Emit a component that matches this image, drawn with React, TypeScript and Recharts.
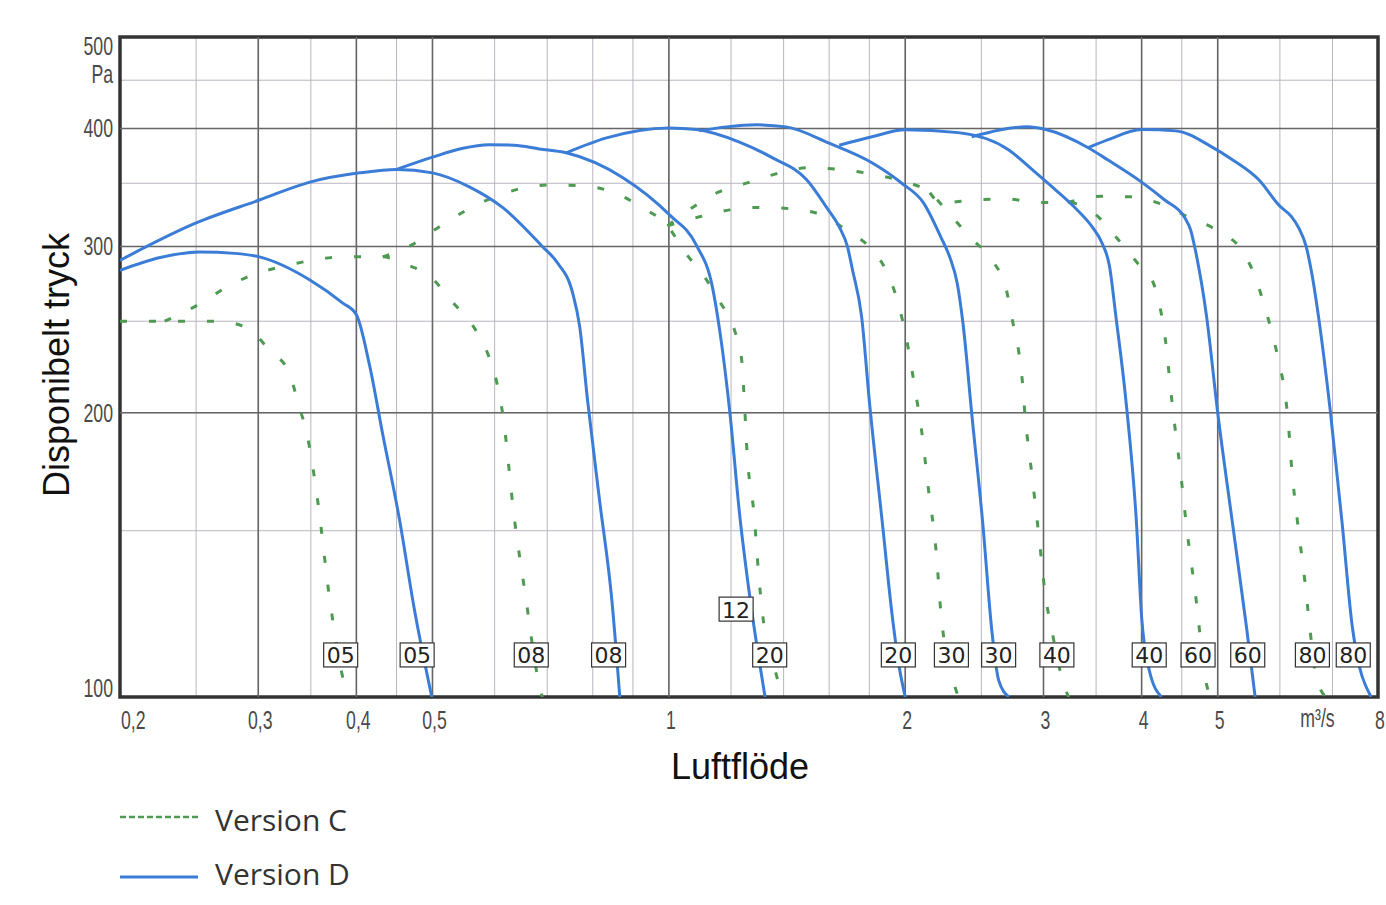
import React from "react";
import {
  ComposedChart,
  Line,
  Scatter,
  XAxis,
  YAxis,
  CartesianGrid,
  ReferenceLine,
  ReferenceArea,
} from "recharts";

const BLUE = "#3b7dd6";
const GREEN = "#4f9a52";

// x grid values (m3/s) and y grid values (Pa), both log axes
const X_GRID = [0.2, 0.25, 0.3, 0.35, 0.4, 0.45, 0.5, 0.6, 0.7, 0.8, 0.9, 1, 1.2, 1.4, 1.6, 1.8, 2, 2.5, 3, 3.5, 4, 4.5, 5, 6, 7, 8];
const Y_GRID = [100, 150, 200, 250, 300, 350, 400, 450, 500];
const X_MAJOR = [0.3, 0.4, 0.5, 1, 2, 3, 4, 5];
const Y_MAJOR = [200, 300, 400];

const X_LABELS: Record<string, string> = {
  "0.2": "0,2", "0.3": "0,3", "0.4": "0,4", "0.5": "0,5",
  "1": "1", "2": "2", "3": "3", "4": "4", "5": "5", "7": "m³/s", "8": "8",
};
const Y_LABELS: Record<string, string> = { "100": "100", "200": "200", "300": "300", "400": "400", "500": "500" };

// Version D (solid blue)
const D05 = [[0.2, 283], [0.225, 292], [0.253, 296], [0.28, 295], [0.301, 292.5], [0.349, 276.5], [0.384, 261.5], [0.4, 254], [0.416, 224], [0.432, 190], [0.454, 154], [0.474, 124], [0.499, 100]];
const D08 = [[0.2, 290], [0.25, 317.7], [0.301, 336], [0.349, 351], [0.404, 359], [0.45, 362], [0.5, 359], [0.557, 347], [0.614, 330], [0.69, 300], [0.722, 288], [0.754, 268], [0.77, 246.6], [0.788, 206], [0.816, 161.7], [0.846, 126.7], [0.866, 100]];
const D12 = [[0.45, 362], [0.5, 373], [0.545, 381], [0.59, 384.5], [0.635, 384], [0.684, 380.6], [0.74, 377], [0.873, 355], [1.002, 324], [1.084, 301], [1.136, 272], [1.162, 243], [1.196, 200], [1.23, 156.7], [1.268, 127.6], [1.326, 100]];
const D20 = [[0.74, 377], [0.833, 391], [1.0, 400.6], [1.084, 399], [1.23, 387], [1.35, 373], [1.498, 353], [1.588, 330], [1.648, 314.7], [1.688, 300], [1.714, 283], [1.76, 252.7], [1.8, 206], [1.87, 153], [1.926, 121.5], [1.965, 107.6], [2.0, 100]];
const D30 = [[1.094, 397.7], [1.184, 401.6], [1.294, 403.6], [1.41, 401.6], [1.6, 386], [1.814, 368], [1.98, 350], [2.11, 333.7], [2.22, 307], [2.28, 292], [2.33, 274], [2.37, 248], [2.43, 200], [2.51, 153], [2.58, 116.9], [2.63, 104.2], [2.71, 100]];
const D40 = [[1.648, 384], [1.814, 392], [2.0, 398.7], [2.336, 396], [2.71, 379.6], [2.9, 362], [3.1, 345], [3.3, 328.9], [3.46, 314.7], [3.56, 302.7], [3.64, 286], [3.71, 252.7], [3.82, 206], [3.94, 153], [4.0, 121.5], [4.09, 106.8], [4.24, 100]];
const D60 = [[2.43, 392], [2.86, 401.6], [3.02, 399], [3.42, 381.7], [3.62, 370.7], [4.0, 351], [4.28, 336], [4.54, 321.8], [4.62, 312], [4.68, 298], [4.84, 252.7], [5.0, 200], [5.22, 153], [5.44, 118.6], [5.58, 100]];
const D80 = [[3.42, 381.7], [3.62, 389], [4.0, 399], [4.42, 397.7], [4.9, 383], [5.22, 370.7], [5.64, 353], [6.0, 331], [6.2, 323], [6.34, 314], [6.48, 300], [6.6, 278.6], [6.72, 252.7], [6.96, 200], [7.2, 153], [7.42, 118.6], [7.84, 100]];

// Version C (dashed green)
const C05 = [[0.2, 250], [0.228, 250], [0.267, 250], [0.29, 246], [0.31, 233], [0.329, 220], [0.337, 204.8], [0.346, 190], [0.357, 161.7], [0.37, 126.7], [0.388, 102.2], [0.395, 100]];
const C08 = [[0.228, 250], [0.251, 260], [0.272, 271], [0.295, 280], [0.321, 285.5], [0.351, 290], [0.384, 292.5], [0.432, 292.5], [0.461, 287.5], [0.499, 277.8], [0.53, 262], [0.562, 247.8], [0.588, 231], [0.604, 215], [0.614, 200], [0.636, 154], [0.658, 126.7], [0.678, 106.8], [0.69, 100]];
const C20 = [[0.432, 292.5], [0.47, 301], [0.508, 314], [0.548, 326.5], [0.597, 337.9], [0.652, 346], [0.71, 348.6], [0.78, 347.7], [0.852, 342], [0.924, 330], [0.996, 315.5], [1.048, 296], [1.11, 278.6], [1.162, 262], [1.212, 244.8], [1.238, 227.6], [1.246, 210.4], [1.258, 181], [1.284, 155.9], [1.302, 134], [1.328, 115.8], [1.362, 107.6], [1.394, 100]];
const C30 = [[0.996, 315.5], [1.094, 322.5], [1.196, 328], [1.302, 330], [1.432, 328.8], [1.564, 324], [1.688, 311.7], [1.814, 297.5], [1.908, 278.6], [1.965, 258.8], [2.005, 240.7], [2.036, 224], [2.066, 207.9], [2.096, 192.8], [2.14, 166.4], [2.19, 142.4], [2.22, 123], [2.29, 106], [2.336, 100]];
const C40 = [[0.996, 315.5], [1.072, 330], [1.158, 342.7], [1.268, 351], [1.384, 359], [1.508, 363.5], [1.648, 362], [1.81, 358], [1.978, 352], [2.15, 342], [2.29, 323], [2.43, 305.6], [2.59, 289], [2.69, 270], [2.74, 250], [2.79, 232], [2.82, 215.6], [2.84, 200], [2.9, 171.8], [2.96, 148], [3.02, 127.3], [3.07, 118.3], [3.19, 102.5], [3.23, 100]];
const C60 = [[2.15, 342], [2.22, 333.7], [2.45, 336], [2.69, 337], [2.93, 334], [3.22, 334], [3.5, 324], [3.71, 307], [3.94, 289], [4.15, 273], [4.24, 254], [4.3, 234.8], [4.34, 218], [4.38, 202.9], [4.48, 174], [4.57, 150], [4.68, 129.2], [4.84, 103], [4.9, 100]];
const C80 = [[3.22, 334], [3.55, 339], [3.88, 338.6], [4.22, 333], [4.58, 322.5], [5.0, 311.7], [5.36, 297.5], [5.58, 278.6], [5.74, 258.8], [5.88, 240.7], [6.0, 224], [6.1, 207.9], [6.16, 191.8], [6.2, 178], [6.32, 153], [6.46, 132], [6.52, 122.7], [6.67, 105.5], [6.86, 100]];

// size tags at the foot of the curves
const TAG_TEXT = ["05", "05", "08", "08", "12", "20", "20", "30", "30", "40", "40", "60", "60", "80", "80"];
const TAG_X = [0.382, 0.478, 0.668, 0.838, 1.218, 1.344, 1.96, 2.29, 2.63, 3.12, 4.09, 4.72, 5.46, 6.6, 7.44];
const TAG_Y = [110.8, 110.8, 110.8, 110.8, 123.9, 110.8, 110.8, 110.8, 110.8, 110.8, 110.8, 110.8, 110.8, 110.8, 110.8];

const BLUE_SERIES = [D05, D08, D12, D20, D30, D40, D60, D80];
const GREEN_SERIES = [C05, C08, C20, C30, C40, C60, C80];

const pts = (arr: number[][]) => arr.map(([x, y]) => ({ x, y }));
const tags = TAG_TEXT.map((t, i) => ({ x: TAG_X[i], y: TAG_Y[i], t }));

const tickFont = "'Liberation Sans', Arial, sans-serif";

const NarrowText = ({ x, y, text, anchor }: any) => (
  <text
    transform={`translate(${x},${y}) scale(0.68,1)`}
    textAnchor={anchor}
    dominantBaseline="central"
    fontFamily={tickFont}
    fontSize={26}
    fill="#4a4a4a"
  >
    {text}
  </text>
);

const XTick = (props: any) => {
  const { x, y, payload } = props;
  const label = X_LABELS[String(payload.value)];
  if (!label) return null;
  if (payload.value === 0.2) return <NarrowText x={x + 1} y={y + 15} text={label} anchor="start" />;
  if (payload.value === 7) return <NarrowText x={x - 15} y={y + 13} text={label} anchor="middle" />;
  return <NarrowText x={x + 2} y={y + 15} text={label} anchor="middle" />;
};

const YTick = (props: any) => {
  const { x, y, payload } = props;
  const label = Y_LABELS[String(payload.value)];
  if (!label) return null;
  if (payload.value === 500)
    return (
      <g>
        <NarrowText x={x + 1} y={y + 9} text="500" anchor="end" />
        <NarrowText x={x + 1} y={y + 37} text="Pa" anchor="end" />
      </g>
    );
  const dy = payload.value === 100 ? -9 : 0;
  return <NarrowText x={x + 1} y={y + dy} text={label} anchor="end" />;
};

const TagShape = (props: any) => {
  const { cx, cy, payload } = props;
  return (
    <g>
      <rect x={cx - 17} y={cy - 12} width={34} height={24} fill="#fff" stroke="#333" strokeWidth={1.2} />
      <text x={cx} y={cy + 1} textAnchor="middle" dominantBaseline="central" fontFamily="'DejaVu Sans', sans-serif" fontSize={22} fill="#222">
        {payload.t}
      </text>
    </g>
  );
};

export default function App() {
  return (
    <div style={{ position: "absolute", left: 0, top: 0, width: 1386, height: 905, background: "#fff" }}>
      <ComposedChart width={1386} height={905} margin={{ top: 37, right: 8, bottom: 168, left: 60 }}>
        <CartesianGrid stroke="#bbb4c0" strokeWidth={1} />
        {X_MAJOR.map((v) => (
          <ReferenceLine key={`xm${v}`} x={v} stroke="#666" strokeWidth={1.6} />
        ))}
        {Y_MAJOR.map((v) => (
          <ReferenceLine key={`ym${v}`} y={v} stroke="#666" strokeWidth={1.6} />
        ))}
        <XAxis
          type="number"
          dataKey="x"
          scale="log"
          domain={[0.2, 8]}
          allowDataOverflow
          ticks={X_GRID}
          interval={0}
          tick={<XTick />}
          tickLine={false}
          axisLine={false}
          height={40}
        />
        <YAxis
          type="number"
          dataKey="y"
          scale="log"
          domain={[100, 500]}
          allowDataOverflow
          ticks={Y_GRID}
          interval={0}
          tick={<YTick />}
          tickLine={false}
          axisLine={false}
          width={60}
        />
        {GREEN_SERIES.map((s, i) => (
          <Line
            key={`c${i}`}
            data={pts(s)}
            dataKey="y"
            type="monotone"
            stroke={GREEN}
            strokeWidth={3}
            strokeDasharray="7 22"
            dot={false}
            isAnimationActive={false}
          />
        ))}
        {BLUE_SERIES.map((s, i) => (
          <Line
            key={`d${i}`}
            data={pts(s)}
            dataKey="y"
            type="monotone"
            stroke={BLUE}
            strokeWidth={3}
            dot={false}
            isAnimationActive={false}
          />
        ))}
        <Scatter data={tags} dataKey="y" shape={<TagShape />} isAnimationActive={false} />
        <ReferenceArea x1={0.2} x2={8} y1={100} y2={500} fill="none" stroke="#333" strokeWidth={3.5} />
      </ComposedChart>

      <svg style={{ position: "absolute", left: 0, top: 0 }} width={1386} height={905} pointerEvents="none">
        <text
          transform="translate(56,365) rotate(-90)"
          textAnchor="middle"
          dominantBaseline="central"
          fontFamily="'Liberation Sans', Arial, sans-serif"
          fontSize={36}
          fill="#111"
        >
          Disponibelt tryck
        </text>
        <text x={740} y={766} textAnchor="middle" dominantBaseline="central" fontFamily="'Liberation Sans', Arial, sans-serif" fontSize={36} fill="#111">
          Luftflöde
        </text>
        <line x1={120} y1={817} x2={198} y2={817} stroke={GREEN} strokeWidth={2.5} strokeDasharray="6 3" />
        <text x={215} y={819} dominantBaseline="central" fontFamily="'Open Sans', sans-serif" fontSize={30} fill="#333">
          Version C
        </text>
        <line x1={120} y1={877} x2={198} y2={877} stroke={BLUE} strokeWidth={3} />
        <text x={215} y={873} dominantBaseline="central" fontFamily="'Open Sans', sans-serif" fontSize={30} fill="#333">
          Version D
        </text>
      </svg>
    </div>
  );
}
